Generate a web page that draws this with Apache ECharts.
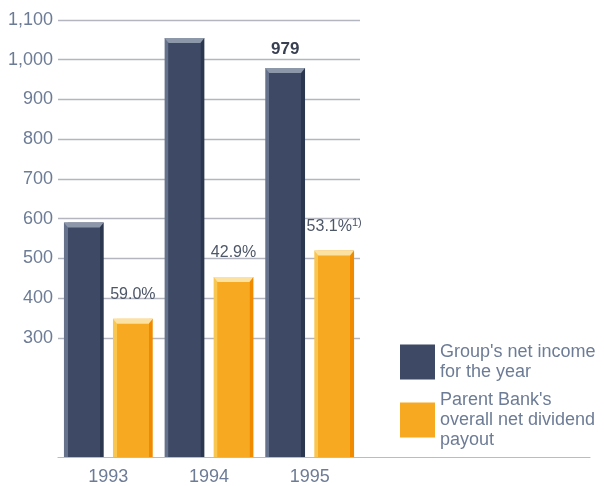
<!DOCTYPE html>
<html>
<head>
<meta charset="utf-8">
<script src="https://cdn.jsdelivr.net/npm/echarts@6/dist/echarts.min.js"></script>
<style>
  html, body { margin: 0; padding: 0; background: #ffffff; }
  #chart { width: 604px; height: 486px; }
</style>
</head>
<body>
<div id="chart"></div>
<script>
// Net income and dividend payout, 1993-1995 (DM million)
const years = ['1993', '1994', '1995'];
const netIncome = [590, 1055, 979];
const dividendPayout = [348, 453, 520];
const netIncomeLabels = ['', '', '979'];
const payoutLabels = ['59.0%', '42.9%', '53.1%'];
const payoutNotes = ['', '', '1)'];
const yTicks = [300, 400, 500, 600, 700, 800, 900, 1000, 1100];
const yTickLabels = ['300', '400', '500', '600', '700', '800', '900', '1,000', '1,100'];
const seriesNames = ["Group's net income\nfor the year", "Parent Bank's\noverall net dividend\npayout"];

const FONT = '"Liberation Sans", Arial, Helvetica, sans-serif';
const AXIS_TEXT = '#6d7c96';

const navy = { light: '#66718b', main: '#3e4965', dark: '#2b374f', bevel: '#8d97aa' };
const amber = { light: '#f9c650', main: '#f7a922', dark: '#f08b00', bevel: '#fbe2a2' };

// Draws one bevelled column per category; side -1 = left bar of the pair, +1 = right bar
function columnRenderer(side, pal, labels, notes, labelStyle) {
  return function (params, api) {
    const i = params.dataIndex;
    const cat = api.value(0);
    const val = api.value(1);
    const band = api.size([1, 0])[0];
    const w = band * 0.395;
    const gap = band * 0.092;
    const base = api.coord([cat, 0]);
    const top = api.coord([cat, val]);
    const x0 = side < 0 ? base[0] - gap / 2 - w : base[0] + gap / 2;
    const x1 = x0 + w;
    const bev = 5, inset = 4;
    const fill = new echarts.graphic.LinearGradient(0, 0, 1, 0, [
      { offset: 0, color: pal.light },
      { offset: 0.09, color: pal.light },
      { offset: 0.1, color: pal.main },
      { offset: 0.9, color: pal.main },
      { offset: 0.91, color: pal.dark },
      { offset: 1, color: pal.dark }
    ]);
    const children = [
      { type: 'rect', shape: { x: x0, y: top[1], width: w, height: base[1] - top[1] }, style: { fill: fill } },
      { type: 'polygon', shape: { points: [[x0, top[1]], [x1, top[1]], [x1 - inset, top[1] + bev], [x0 + inset, top[1] + bev]] }, style: { fill: pal.bevel } }
    ];
    if (labels[i]) {
      const note = notes && notes[i] ? '{s|' + notes[i] + '}' : '';
      children.push({
        type: 'text',
        x: (x0 + x1) / 2,
        y: top[1] - labelStyle.distance,
        style: {
          text: '{p|' + labels[i] + '}' + note,
          align: 'center',
          verticalAlign: 'bottom',
          rich: {
            p: { fontSize: labelStyle.fontSize, fontWeight: labelStyle.fontWeight, fontFamily: FONT, fill: labelStyle.color, lineHeight: 18 },
            s: { fontSize: 11, fontFamily: FONT, fill: labelStyle.color, verticalAlign: 'top', lineHeight: 11 }
          }
        }
      });
    }
    return { type: 'group', children: children };
  };
}

const chart = echarts.init(document.getElementById('chart'), null, { renderer: 'canvas' });

chart.setOption({
  backgroundColor: '#ffffff',
  animation: false,
  textStyle: { fontFamily: FONT },
  grid: [
    { left: 58, right: 244, top: 20, bottom: 29 },
    { left: 58, right: 14, top: 20, bottom: 29 }
  ],
  legend: {
    orient: 'vertical',
    left: 395,
    top: 337,
    icon: 'rect',
    itemWidth: 35,
    itemHeight: 35,
    itemGap: 8,
    itemTextGap: 8,
    selectedMode: false,
    textStyle: { fontSize: 18, lineHeight: 20, color: AXIS_TEXT, fontFamily: FONT },
    data: seriesNames
  },
  xAxis: [
    {
      type: 'category',
      gridIndex: 0,
      data: years,
      axisLine: { show: false },
      axisTick: { show: false },
      axisLabel: { fontSize: 18, color: AXIS_TEXT, margin: 11, fontFamily: FONT },
      splitLine: { show: false }
    },
    {
      type: 'value',
      gridIndex: 1,
      min: 0,
      max: 1,
      axisLine: { show: true, onZero: false, lineStyle: { color: '#b9bcc3', width: 1.2 } },
      axisTick: { show: false },
      axisLabel: { show: false },
      splitLine: { show: false }
    }
  ],
  yAxis: [
    {
      type: 'value',
      gridIndex: 0,
      min: 0,
      max: 1100,
      interval: 100,
      axisLine: { show: false },
      axisTick: { show: false },
      splitLine: { show: false },
      axisLabel: {
        fontSize: 18,
        color: AXIS_TEXT,
        margin: 5,
        fontFamily: FONT,
        formatter: function (v) {
          const k = yTicks.indexOf(v);
          return k >= 0 ? yTickLabels[k] : '';
        }
      }
    },
    { type: 'value', gridIndex: 1, min: 0, max: 1, show: false }
  ],
  series: [
    {
      // horizontal rules at the labelled values only, kept behind the columns
      type: 'line',
      xAxisIndex: 0,
      yAxisIndex: 0,
      data: years.map(function () { return null; }),
      silent: true,
      symbol: 'none',
      z: 0,
      markLine: {
        silent: true,
        z: 0,
        symbol: ['none', 'none'],
        label: { show: false },
        lineStyle: { color: '#b3b6be', width: 1.3, type: 'solid' },
        data: yTicks.map(function (v) { return { yAxis: v }; })
      }
    },
    {
      name: seriesNames[0],
      type: 'custom',
      xAxisIndex: 0,
      yAxisIndex: 0,
      itemStyle: { color: navy.main },
      encode: { x: 0, y: 1 },
      data: netIncome.map(function (v, i) { return [i, v]; }),
      renderItem: columnRenderer(-1, navy, netIncomeLabels, null,
        { distance: 10, fontSize: 17, fontWeight: 'bold', color: '#394052' }),
      z: 10
    },
    {
      name: seriesNames[1],
      type: 'custom',
      xAxisIndex: 0,
      yAxisIndex: 0,
      itemStyle: { color: amber.main },
      encode: { x: 0, y: 1 },
      data: dividendPayout.map(function (v, i) { return [i, v]; }),
      renderItem: columnRenderer(1, amber, payoutLabels, payoutNotes,
        { distance: 15, fontSize: 16, fontWeight: 'normal', color: '#4e5768' }),
      z: 10
    }
  ]
});
</script>
</body>
</html>
